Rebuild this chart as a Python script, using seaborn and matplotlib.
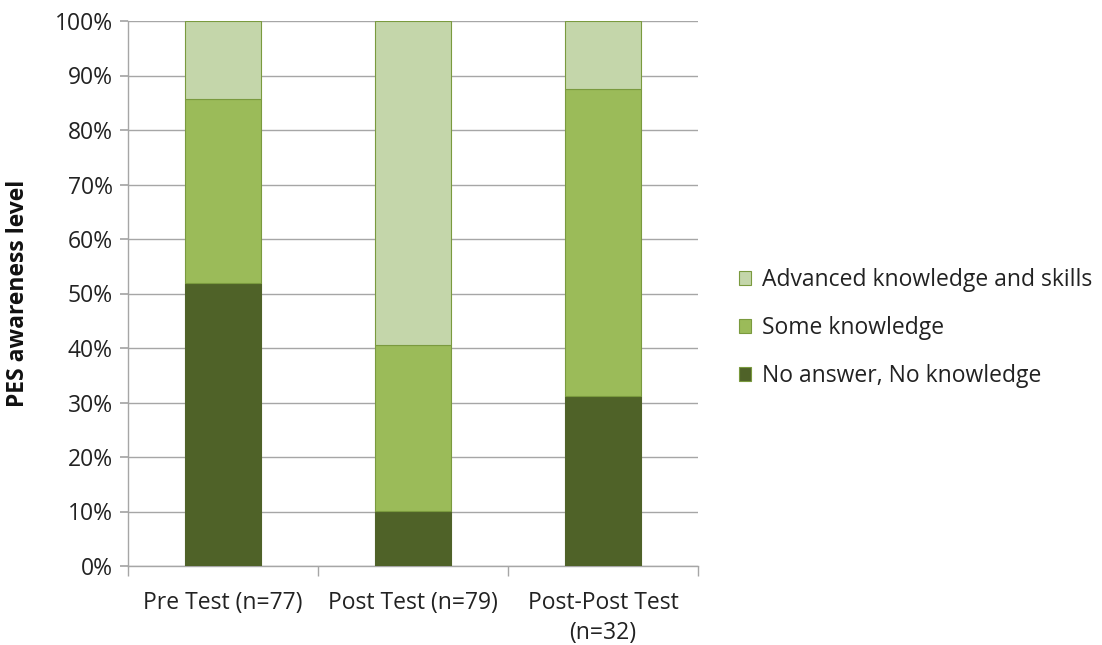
import matplotlib
matplotlib.use("Agg")
import matplotlib.pyplot as plt
import seaborn as sns
import numpy as np
import pandas as pd
from matplotlib.patches import Patch
from matplotlib.ticker import FixedLocator, PercentFormatter

categories = ["Pre Test (n=77)", "Post Test (n=79)", "Post-Post Test\n(n=32)"]
no_knowledge = [51.9, 10.1, 31.25]
some_knowledge = [33.8, 30.4, 56.25]
advanced = [14.3, 59.5, 12.5]
series_names = ["No answer, No knowledge", "Some knowledge", "Advanced knowledge and skills"]
colors = ["#4F6228", "#9BBB59", "#C4D6AA"]
edge = "#7A9A3E"

sns.set_theme(style="white")
plt.rcParams['font.family'] = ['Open Sans', 'DejaVu Sans']

FS = 16.5
fig = plt.figure(figsize=(11.02, 6.45), dpi=100)
ax = fig.add_axes([128/1102, 1-566/645, 570/1102, 545/645])

df = pd.DataFrame({"cat": categories, "a": no_knowledge, "b": some_knowledge, "c": advanced})
bottom = np.zeros(len(categories))
for col, color in zip(["a", "b", "c"], colors):
    sns.barplot(data=df, x="cat", y=col, color=color, bottom=bottom, width=0.4,
                edgecolor=edge if color != colors[0] else color, linewidth=0.8,
                saturation=1, ax=ax, zorder=3)
    bottom = bottom + df[col].values

ax.set_ylim(0, 100)
ax.set_xlim(-0.5, 2.5)
ax.yaxis.set_major_locator(FixedLocator(np.arange(0, 101, 10)))
ax.yaxis.set_major_formatter(PercentFormatter(decimals=0))
ax.grid(axis="y", color="#A6A6A6", linewidth=1, zorder=0)
ax.set_axisbelow(True)
for s in ["top", "right"]:
    ax.spines[s].set_visible(False)
ax.spines["left"].set_color("#A6A6A6")
ax.spines["bottom"].set_color("#A6A6A6")
ax.spines["left"].set_linewidth(1)
ax.spines["bottom"].set_linewidth(1)

ax.tick_params(axis="y", which="both", left=True, length=6, color="#A6A6A6",
               labelsize=FS, labelcolor="#222222", pad=5)
ax.tick_params(axis="x", which="major", bottom=False, labelsize=FS, labelcolor="#222222", pad=12)
ax.set_xticks([0, 1, 2])
ax.set_xticklabels(categories, linespacing=1.35)
ax.set_xticks([-0.5, 0.5, 1.5, 2.5], minor=True)
ax.tick_params(axis="x", which="minor", bottom=True, length=7, color="#A6A6A6")

ax.set_xlabel("")
ax.set_ylabel("PES awareness level", fontsize=FS, fontweight="bold", color="#111111", labelpad=18)

handles = [Patch(facecolor=c, edgecolor=edge, linewidth=0.8) for c in colors][::-1]
labels = series_names[::-1]
fig.legend(handles, labels, loc="center left", bbox_to_anchor=(718/1102, 1-328/645),
           frameon=False, fontsize=FS, handlelength=0.55, handleheight=0.55,
           handletextpad=0.45, labelspacing=1.05, labelcolor="#222222")

fig.savefig("out.png", dpi=100)
